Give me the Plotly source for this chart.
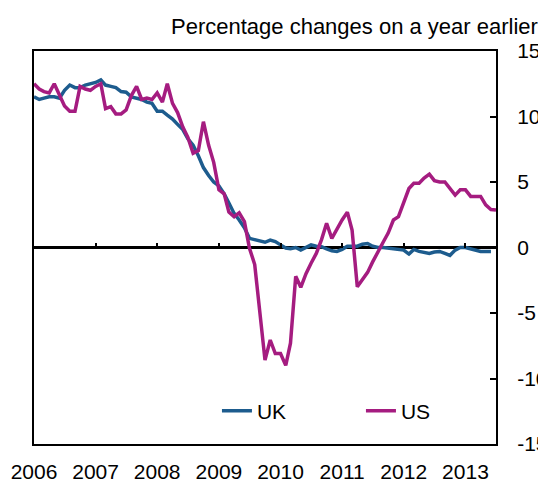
"""
UK and US percentage changes on a year earlier, monthly 2006-2013.
"""
import pandas as pd
import plotly.graph_objects as go

FONT = "Liberation Sans, Arial, sans-serif"
UK_COLOR = "#1D5C8E"
US_COLOR = "#A51C80"

# monthly readings, Jan 2006 onwards
uk_values = [
    11.5, 11.3, 11.4, 11.5, 11.5, 11.4, 12.0, 12.4, 12.2, 12.2,
    12.4, 12.5, 12.6, 12.8, 12.4, 12.3, 12.2, 11.9, 11.85, 11.5,
    11.4, 11.3, 11.1, 11.0, 10.4, 10.4, 10.1, 9.8, 9.4, 9.0,
    8.3, 7.8, 7.0, 6.1, 5.5, 5.0, 4.7, 4.1, 3.4, 2.6,
    2.1, 1.5, 0.7, 0.6, 0.5, 0.4, 0.57, 0.45, 0.2, -0.04,
    -0.1, 0.0, -0.2, 0.0, 0.2, 0.1, 0.06, -0.1, -0.25, -0.3,
    -0.14, 0.1, 0.1, 0.1, 0.25, 0.3, 0.1, 0.0, 0.0, -0.05,
    -0.1, -0.15, -0.2, -0.5, -0.15, -0.3, -0.35, -0.45, -0.35, -0.3,
    -0.45, -0.6, -0.2, 0.0, 0.0, -0.1, -0.2, -0.3, -0.3, -0.3,
]
us_values = [
    12.5, 12.1, 11.9, 11.8, 12.5, 11.6, 10.8, 10.4, 10.4, 12.3,
    12.1, 12.0, 12.3, 12.5, 10.6, 10.75, 10.2, 10.2, 10.5, 11.6,
    12.3, 11.3, 11.4, 11.3, 11.8, 11.1, 12.5, 11.0, 10.3, 9.2,
    8.4, 7.2, 7.4, 9.6, 7.8, 6.5, 4.4, 4.1, 2.7, 2.35,
    2.65, 1.97, -0.06, -1.3, -4.8, -8.6, -7.06, -8.1, -8.1, -9.0,
    -7.3, -2.2, -3.04, -2.0, -1.2, -0.45, 0.6, 1.85, 0.7, 1.4,
    2.1, 2.7, 1.34, -3.0, -2.5, -1.9, -1.1, -0.3, 0.4, 1.1,
    2.1, 2.35, 3.4, 4.5, 4.9, 4.9, 5.3, 5.6, 5.1, 5.0,
    5.0, 4.5, 4.0, 4.4, 4.4, 3.9, 3.9, 3.9, 3.25, 2.9,
    2.86,
]
years = [2006, 2007, 2008, 2009, 2010, 2011, 2012, 2013]
y_ticks = [-15, -10, -5, 0, 5, 10, 15]
y_tick_labels = ["-15", "-10", "-5", "0", "5", "10", "15"]

uk_dates = pd.date_range("2006-01-01", periods=len(uk_values), freq="MS")
us_dates = pd.date_range("2006-01-01", periods=len(us_values), freq="MS")
year_starts = [f"{y}-01-01" for y in years]
x_range = ["2006-01-01", "2013-07-01"]

fig = go.Figure()
fig.add_trace(go.Scatter(x=uk_dates, y=uk_values, name="UK", mode="lines",
                         line={"color": UK_COLOR, "width": 3.5}))
# US sits on the overlay axis (same range) so the year marks on zero get drawn
fig.add_trace(go.Scatter(x=us_dates, y=us_values, name="US", mode="lines",
                         xaxis="x2",
                         line={"color": US_COLOR, "width": 3.5}))

# page body adds an 8px margin, so the figure is sized to the visible area
fig.update_layout(
    template="none",
    width=538,
    height=474,
    margin={"l": 26, "r": 50, "t": 43, "b": 38},
    paper_bgcolor="white",
    plot_bgcolor="white",
    font={"family": FONT, "size": 21, "color": "black"},
    title={
        "text": "Percentage changes on a year earlier",
        "x": 0.985, "xanchor": "right",
        "y": 0.962, "yanchor": "middle",
        "font": {"family": FONT, "size": 22, "color": "black"},
    },
    xaxis={
        "type": "date",
        "range": x_range,
        "tickvals": year_starts,
        "ticktext": [str(y) for y in years],
        "ticks": "",
        "showgrid": False,
        "zeroline": False,
        "showline": True,
        "mirror": True,
        "linecolor": "black",
        "linewidth": 2,
        "automargin": False,
        "ticklabelstandoff": 8,
        "tickfont": {"size": 21},
    },
    # year tick marks sitting on the zero line
    xaxis2={
        "type": "date",
        "range": x_range,
        "overlaying": "x",
        "anchor": "free",
        "position": 0.5,
        "side": "bottom",
        "tickvals": year_starts,
        "ticks": "inside",
        "ticklen": 5,
        "tickwidth": 1.5,
        "tickcolor": "black",
        "showticklabels": False,
        "showgrid": False,
        "zeroline": False,
        "showline": False,
        "automargin": False,
    },
    yaxis={
        "range": [-15, 15],
        "side": "right",
        "tickvals": y_ticks,
        "ticktext": y_tick_labels,
        "ticks": "inside",
        "ticklen": 6,
        "tickwidth": 1.5,
        "tickcolor": "black",
        "showgrid": False,
        "zeroline": True,
        "zerolinecolor": "black",
        "zerolinewidth": 3,
        "showline": True,
        "mirror": True,
        "linecolor": "black",
        "linewidth": 2,
        "automargin": False,
        "ticklabelstandoff": 15,
        "tickfont": {"size": 21},
    },
    legend={
        "orientation": "h",
        "x": 0.396, "xanchor": "left",
        "y": 0.084, "yanchor": "middle",
        "bgcolor": "rgba(0,0,0,0)",
        "font": {"size": 21},
        "entrywidth": 99,
        "entrywidthmode": "pixels",
    },
    showlegend=True,
)

fig.write_html("out.html")
